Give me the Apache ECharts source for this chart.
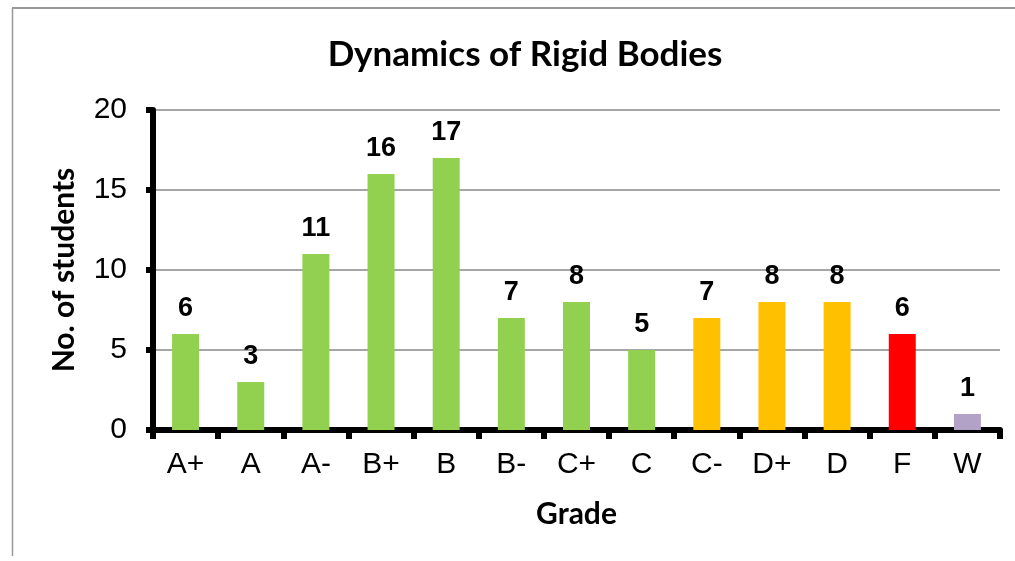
<!DOCTYPE html>
<html>
<head>
<meta charset="utf-8">
<script src="https://cdn.jsdelivr.net/npm/echarts@6/dist/echarts.min.js"></script>
<style>
html,body{margin:0;padding:0;background:#fff;}
#chart{width:1015px;height:561px;}
</style>
</head>
<body>
<div id="chart"></div>
<script>
const categories = ['A+','A','A-','B+','B','B-','C+','C','C-','D+','D','F','W'];
const values = [6,3,11,16,17,7,8,5,7,8,8,6,1];
const barColors = ['#92D050','#92D050','#92D050','#92D050','#92D050','#92D050','#92D050','#92D050','#FFC000','#FFC000','#FFC000','#FF0000','#B3A2C7'];
const yTicks = [0,5,10,15,20];

const chart = echarts.init(document.getElementById('chart'), null, {renderer:'canvas'});
chart.setOption({
  animation:false,
  backgroundColor:'#fff',
  title:{
    text:'Dynamics of Rigid Bodies',
    left:520, top:32, textAlign:'center',
    textStyle:{fontFamily:'Lato', fontWeight:'bold', fontSize:35, color:'#000'}
  },
  graphic:[
    {type:'line', shape:{x1:12.5,y1:8,x2:12.5,y2:556}, style:{stroke:'#999',lineWidth:1.5}, silent:true},
    {type:'line', shape:{x1:12,y1:8,x2:1015,y2:8}, style:{stroke:'#999',lineWidth:2}, silent:true}
  ],
  grid:{left:153, right:15, top:110, bottom:131, containLabel:false},
  xAxis:{
    type:'category',
    data:categories,
    name:'Grade',
    nameLocation:'middle',
    nameGap:69,
    nameTextStyle:{fontFamily:'Lato', fontWeight:'bold', fontSize:30, color:'#000'},
    axisLine:{show:true, lineStyle:{color:'#000', width:6}},
    axisTick:{show:true, alignWithLabel:false, length:9, lineStyle:{color:'#000', width:6}},
    axisLabel:{margin:20, fontFamily:'Liberation Sans', fontSize:30, color:'#000'},
    splitLine:{show:false}
  },
  yAxis:{
    type:'value',
    min:0, max:20, interval:5,
    name:'No. of students',
    nameLocation:'middle',
    nameGap:74,
    nameRotate:90,
    nameTextStyle:{fontFamily:'Lato', fontWeight:'bold', fontSize:30, color:'#000'},
    axisLine:{show:true, lineStyle:{color:'#000', width:6}},
    axisTick:{show:true, length:7, lineStyle:{color:'#000', width:6}},
    axisLabel:{margin:26, fontFamily:'Liberation Sans', fontSize:30, color:'#000',
      formatter:function(v){return yTicks.indexOf(v)>=0?String(v):'';}},
    splitLine:{show:true, lineStyle:{color:'#888', width:1.5}}
  },
  series:[{
    type:'bar',
    data:values.map((v,i)=>({value:v, itemStyle:{color:barColors[i]}})),
    barWidth:27,
    label:{show:true, position:'top', distance:12, fontFamily:'Liberation Sans', fontWeight:'bold', fontSize:27, color:'#000'}
  }]
});
</script>
</body>
</html>
